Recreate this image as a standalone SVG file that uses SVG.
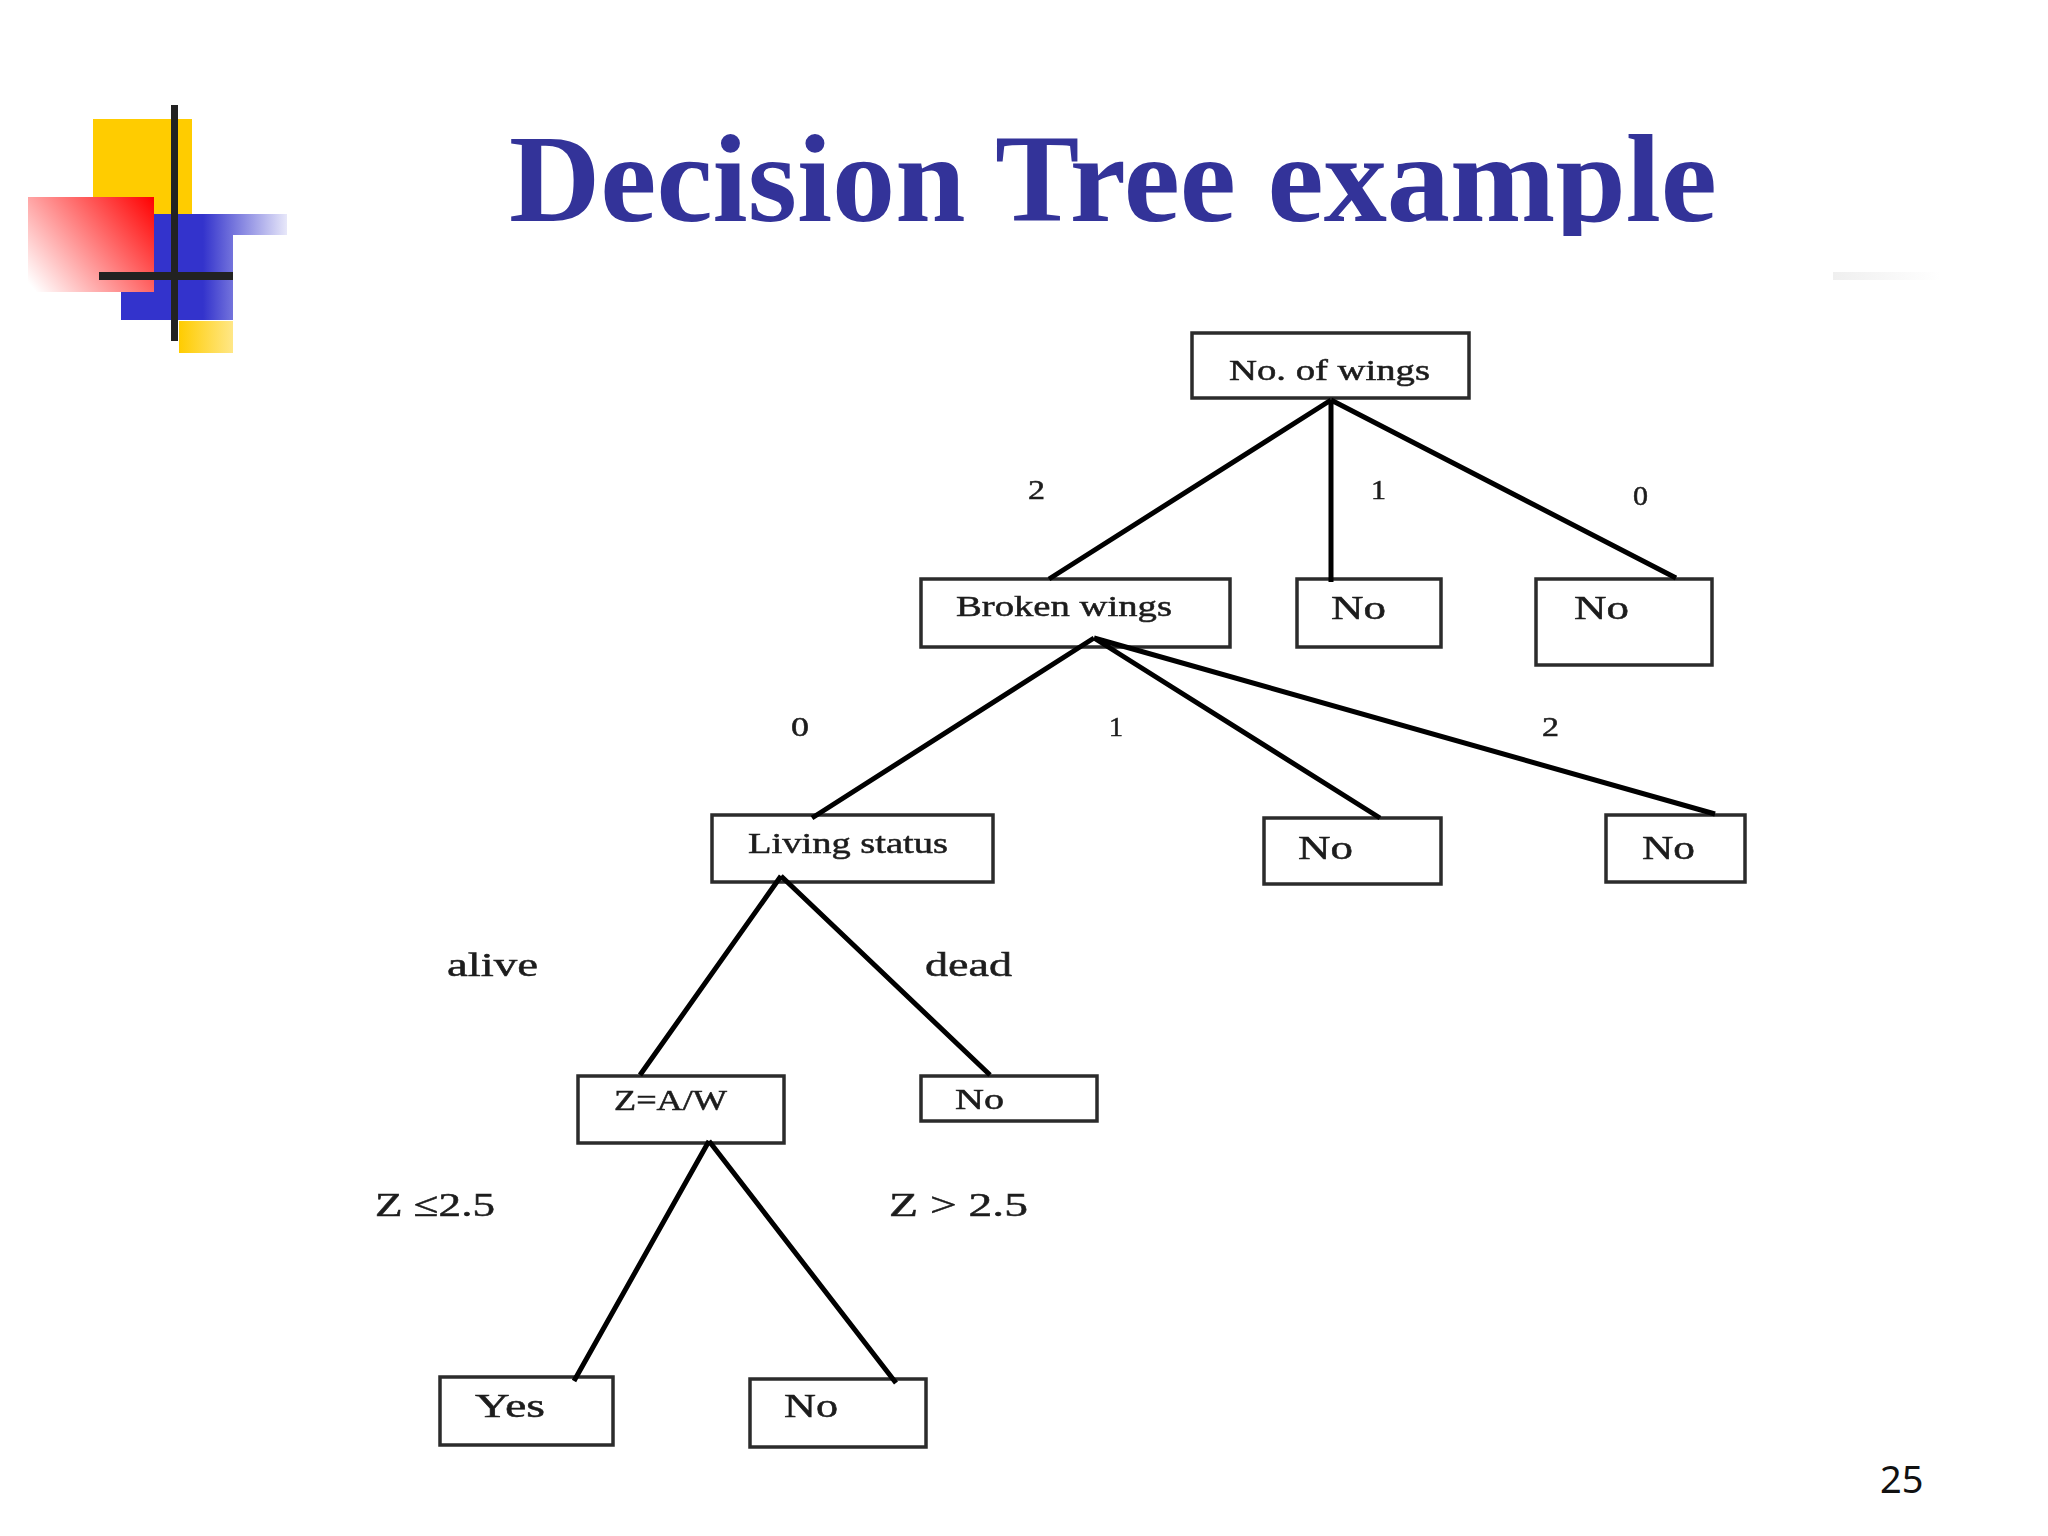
<svg xmlns="http://www.w3.org/2000/svg" width="2048" height="1536" viewBox="0 0 2048 1536">
<style>
.box{fill:#fff;stroke:#2b2b2b;stroke-width:3.5}
.conn{fill:none;stroke:#000;stroke-width:5;stroke-linecap:butt;stroke-linejoin:round}
.l{font-family:"Liberation Serif","Times New Roman",serif;fill:#1c1c1c;stroke:#1c1c1c;stroke-width:.5}
.s{font-size:30px}.m{font-size:34px}.d{font-size:27px}
.title{font-family:"Liberation Serif","Times New Roman",serif;font-weight:bold;font-size:124px;fill:#333399}
.page{font-family:"Noto Sans","Open Sans",sans-serif;font-size:38px;fill:#111}
</style>
<defs>
<linearGradient id="red" gradientUnits="userSpaceOnUse" x1="154" y1="197" x2="36" y2="292"><stop offset="0" stop-color="#ff0000"/><stop offset="1" stop-color="#fff"/></linearGradient>
<linearGradient id="blue" gradientUnits="userSpaceOnUse" x1="203" y1="0" x2="290" y2="0"><stop offset="0" stop-color="#3333cc"/><stop offset="1" stop-color="#eeeefb"/></linearGradient>
<linearGradient id="yel" gradientUnits="userSpaceOnUse" x1="179" y1="0" x2="235" y2="0"><stop offset="0" stop-color="#ffcc00"/><stop offset="1" stop-color="#ffe88c"/></linearGradient>
<linearGradient id="sm" gradientUnits="userSpaceOnUse" x1="1833" y1="0" x2="1940" y2="0"><stop offset="0" stop-color="#efefef"/><stop offset="1" stop-color="#fff"/></linearGradient>
<filter id="soft" x="-5%" y="-20%" width="110%" height="140%"><feGaussianBlur stdDeviation="0.6"/></filter>
<clipPath id="tclip"><rect x="480" y="110" width="1280" height="126"/></clipPath>
</defs>
<rect width="2048" height="1536" fill="#fff"/>
<g id="logo">
<rect x="93" y="119" width="99" height="95" fill="#ffcc00"/>
<rect x="179" y="321" width="54" height="32" fill="url(#yel)"/>
<path d="M154 214H287V235H233V320H121V292H154Z" fill="url(#blue)"/>
<rect x="28" y="197" width="126" height="95" fill="url(#red)"/>
<rect x="171" y="105" width="7" height="236" fill="#222"/>
<rect x="99" y="272" width="134" height="8" fill="#222"/>
</g>
<rect id="smudge" x="1833" y="272" width="107" height="8" fill="url(#sm)"/>
<g clip-path="url(#tclip)"><text id="title" class="title" x="509" y="221" textLength="1208" lengthAdjust="spacingAndGlyphs">Decision Tree example</text></g>
<text id="page" class="page" x="1880" y="1493">25</text>
<g id="n1"><rect class="box" x="1192" y="333" width="277" height="65"/><text class="l s" x="1229" y="380" textLength="201" lengthAdjust="spacingAndGlyphs" filter="url(#soft)">No. of wings</text></g>
<g id="n2"><rect class="box" x="921" y="579" width="309" height="68"/><text class="l s" x="956" y="616" textLength="216" lengthAdjust="spacingAndGlyphs" filter="url(#soft)">Broken wings</text></g>
<g id="n3"><rect class="box" x="1297" y="579" width="144" height="68"/><text class="l m" x="1331" y="619" textLength="55" lengthAdjust="spacingAndGlyphs" filter="url(#soft)">No</text></g>
<g id="n4"><rect class="box" x="1536" y="579" width="176" height="86"/><text class="l m" x="1574" y="619" textLength="55" lengthAdjust="spacingAndGlyphs" filter="url(#soft)">No</text></g>
<g id="n5"><rect class="box" x="712" y="815" width="281" height="67"/><text class="l s" x="748" y="853" textLength="200" lengthAdjust="spacingAndGlyphs" filter="url(#soft)">Living status</text></g>
<g id="n6"><rect class="box" x="1264" y="818" width="177" height="66"/><text class="l m" x="1298" y="859" textLength="55" lengthAdjust="spacingAndGlyphs" filter="url(#soft)">No</text></g>
<g id="n7"><rect class="box" x="1606" y="815" width="139" height="67"/><text class="l m" x="1642" y="859" textLength="53" lengthAdjust="spacingAndGlyphs" filter="url(#soft)">No</text></g>
<g id="n8"><rect class="box" x="578" y="1076" width="206" height="67"/><text class="l s" x="614" y="1110" textLength="113" lengthAdjust="spacingAndGlyphs" filter="url(#soft)">Z=A/W</text></g>
<g id="n9"><rect class="box" x="921" y="1076" width="176" height="45"/><text class="l s" x="955" y="1109" textLength="49" lengthAdjust="spacingAndGlyphs" filter="url(#soft)">No</text></g>
<g id="n10"><rect class="box" x="440" y="1377" width="173" height="68"/><text class="l m" x="475" y="1417" textLength="70" lengthAdjust="spacingAndGlyphs" filter="url(#soft)">Yes</text></g>
<g id="n11"><rect class="box" x="750" y="1379" width="176" height="68"/><text class="l m" x="784" y="1417" textLength="54" lengthAdjust="spacingAndGlyphs" filter="url(#soft)">No</text></g>
<g id="connectors">
<path class="conn" d="M1331 400L1049 579M1331 400V582M1331 400L1676 578"/>
<path class="conn" d="M1094 638L812 818M1094 638L1380 818M1094 638L1715 814"/>
<path class="conn" d="M781 876L640 1075M781 876L990 1075"/>
<path class="conn" d="M709 1141L574 1381M709 1141L896 1383"/>
</g>
<g id="edge-labels" filter="url(#soft)">
<text class="l d" x="1028" y="499" textLength="17" lengthAdjust="spacingAndGlyphs">2</text>
<text class="l d" x="1371" y="499" textLength="15" lengthAdjust="spacingAndGlyphs">1</text>
<text class="l d" x="1633" y="505" textLength="15" lengthAdjust="spacingAndGlyphs">0</text>
<text class="l d" x="791" y="736" textLength="18" lengthAdjust="spacingAndGlyphs">0</text>
<text class="l d" x="1109" y="736" textLength="14" lengthAdjust="spacingAndGlyphs">1</text>
<text class="l d" x="1542" y="736" textLength="17" lengthAdjust="spacingAndGlyphs">2</text>
<text class="l m" x="447" y="976" textLength="91" lengthAdjust="spacingAndGlyphs">alive</text>
<text class="l m" x="925" y="976" textLength="87" lengthAdjust="spacingAndGlyphs">dead</text>
<text class="l m" x="375" y="1216" textLength="120" lengthAdjust="spacingAndGlyphs">Z ≤2.5</text>
<text class="l m" x="889" y="1216" textLength="139" lengthAdjust="spacingAndGlyphs">Z &gt; 2.5</text>
</g>
</svg>
